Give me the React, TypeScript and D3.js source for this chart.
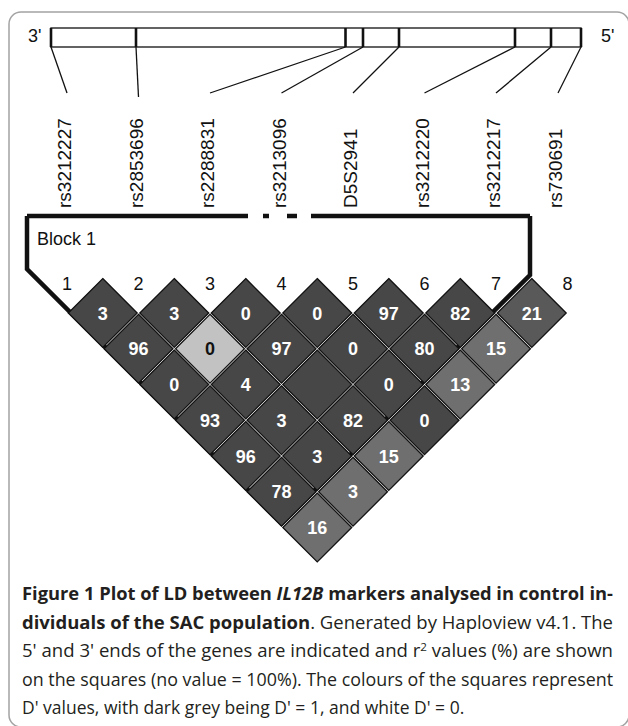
import React, { useEffect, useRef } from "react";
import { select, scaleLinear } from "d3";

// markers of IL12B, 3' -> 5'
const markerNames = ["rs3212227", "rs2853696", "rs2288831", "rs3213096", "D5S2941", "rs3212220", "rs3212217", "rs730691"];
const markerNumbers = [1, 2, 3, 4, 5, 6, 7, 8];
// relative position of each marker along the gene bar
const genePositions = [0, 85, 294.5, 312, 348, 464, 500, 530];

// r2 (%) per row of the LD plot (row d = pairs i, i+d); null = no value (100%)
const r2Rows = [
  [3, 3, 0, 0, 97, 82, 21],
  [96, 0, 97, 0, 80, 15],
  [0, 4, null, 0, 13],
  [93, 3, 82, 0],
  [96, 3, 15],
  [78, 3],
  [16],
];
// D' per square
const dPrimeRows = [
  [1, 1, 1, 1, 1, 1, 0.9],
  [1, 0.33, 1, 1, 1, 0.78],
  [1, 1, 1, 1, 0.78],
  [1, 1, 1, 1],
  [1, 1, 0.78],
  [1, 0.78],
  [0.78],
];
const blocks = [{ name: "Block 1", first: 1, last: 7 }];

const captionLines = [
  [["Figure 1 Plot of LD between ", "b"], ["IL12B", "bi"], [" markers analysed in control in-", "b"]],
  [["dividuals of the SAC population", "b"], [". Generated by Haploview v4.1. The", "r"]],
  [["5' and 3' ends of the genes are indicated and r", "r"], ["2", "sup"], [" values (%) are shown", "down"]],
  [["on the squares (no value = 100%). The colours of the squares represent", "r"]],
  [["D' values, with dark grey being D' = 1, and white D' = 0.", "r"]],
];

function LDPlot() {
  const svgRef = useRef(null);

  useEffect(() => {
    const svg = select(svgRef.current);
    svg.selectAll("*").remove();
    const font = "'Liberation Sans', Arial, sans-serif";

    // frame
    svg.append("rect")
      .attr("x", 9).attr("y", 12).attr("width", 620).attr("height", 715)
      .attr("rx", 12).attr("fill", "none").attr("stroke", "#a3a3a3").attr("stroke-width", 1.5);

    // gene bar
    const geneX = scaleLinear().domain([0, 530]).range([51, 581]);
    const barTop = 28, barBottom = 47;
    svg.append("rect")
      .attr("x", geneX(0)).attr("y", barTop)
      .attr("width", geneX(530) - geneX(0)).attr("height", barBottom - barTop)
      .attr("fill", "white").attr("stroke", "#222").attr("stroke-width", 1.4);
    svg.selectAll(".divider").data(genePositions).join("line")
      .attr("class", "divider")
      .attr("x1", d => geneX(d)).attr("x2", d => geneX(d))
      .attr("y1", barTop).attr("y2", barBottom)
      .attr("stroke", "#111").attr("stroke-width", 2.6);
    svg.append("text").attr("x", 28).attr("y", 42).text("3'")
      .attr("font-family", font).attr("font-size", 18).attr("fill", "#111");
    svg.append("text").attr("x", 601).attr("y", 42).text("5'")
      .attr("font-family", font).attr("font-size", 18).attr("fill", "#111");

    // LD triangle scales
    const markerX = scaleLinear().domain([1, 8]).range([67, 567.5]);
    const half = (markerX(2) - markerX(1)) / 2;
    const rowY = scaleLinear().domain([1, 7]).range([313, 313 + 6 * half]);
    const labelX = (i) => Math.min(markerX(i) - 3, geneX(530) - 26);

    // connectors + names
    svg.selectAll(".conn").data(genePositions).join("line")
      .attr("class", "conn")
      .attr("x1", d => geneX(d)).attr("y1", barBottom)
      .attr("x2", (d, k) => labelX(k + 1) + 3).attr("y2", (d, k) => (k === 1 ? 97 : 93))
      .attr("stroke", "#111").attr("stroke-width", 1.3);
    svg.selectAll(".name").data(markerNames).join("text")
      .attr("class", "name")
      .attr("transform", (d, k) => `translate(${labelX(k + 1) + 7},208) rotate(-90)`)
      .attr("font-family", font).attr("font-size", 19).attr("fill", "#111")
      .text(d => d);

    // block outline
    const off = 4;
    blocks.forEach(b => {
      const left = markerX(b.first) - 40;
      const right = markerX(b.last) + 34;
      const top = 216;
      const y1 = rowY(1) - off;
      const d = b.last - b.first;
      const xb = (markerX(b.first) + markerX(b.last)) / 2;
      const yb = y1 + d * half;
      const yL = y1 - (markerX(b.first) - left);
      const yR = y1 - (right - markerX(b.last));
      svg.append("path")
        .attr("d", `M${left},${top} L${left},${yL} L${xb},${yb} L${right},${yR} L${right},${top}`)
        .attr("fill", "none").attr("stroke", "#111").attr("stroke-width", 4.5)
        .attr("stroke-linejoin", "miter");
      svg.append("line")
        .attr("x1", left).attr("x2", right).attr("y1", top).attr("y2", top)
        .attr("stroke", "#111").attr("stroke-width", 4.5)
        .attr("stroke-dasharray", "221,15,6,18,10,14,221");
      svg.append("text").attr("x", left + 10).attr("y", 245).text(b.name)
        .attr("font-family", font).attr("font-size", 18).attr("fill", "#111");
    });

    // marker numbers
    svg.selectAll(".num").data(markerNumbers).join("text")
      .attr("class", "num")
      .attr("x", d => markerX(d)).attr("y", 290)
      .attr("text-anchor", "middle")
      .attr("font-family", font).attr("font-size", 18).attr("fill", "#111")
      .text(d => d);

    // squares
    const shade = scaleLinear().domain([0, 1]).range(["#ffffff", "#474747"]);
    const cells = [];
    r2Rows.forEach((row, r) => {
      row.forEach((v, k) => {
        const d = r + 1;
        const i = k + 1;
        cells.push({ i, j: i + d, d, r2: v, dp: dPrimeRows[r][k] });
      });
    });
    const inner = half - 1.3;
    const g = svg.append("g");
    const cell = g.selectAll(".cell").data(cells).join("g")
      .attr("class", "cell")
      .attr("transform", c => `translate(${(markerX(c.i) + markerX(c.j)) / 2},${rowY(c.d)})`);
    cell.append("path")
      .attr("d", `M0,${-inner} L${inner},0 L0,${inner} L${-inner},0 Z`)
      .attr("fill", c => shade(c.dp))
      .attr("stroke", "#111").attr("stroke-width", 1.3);
    cell.filter(c => c.r2 !== null).append("text")
      .attr("y", 6.5).attr("text-anchor", "middle")
      .attr("font-family", font).attr("font-size", 18).attr("font-weight", "bold")
      .attr("fill", c => (c.dp < 0.5 ? "#111" : "#fff"))
      .text(c => c.r2);

    // caption
    const capFont = "'Open Sans', 'Noto Sans', sans-serif";
    const capLeft = 22, capRight = 613;
    captionLines.forEach((parts, li) => {
      const t = svg.append("text")
        .attr("x", capLeft).attr("y", 600 + li * 28.5)
        .attr("font-family", capFont).attr("font-size", 17.5).attr("fill", "#231f20");
      if (li < captionLines.length - 1) {
        t.attr("textLength", capRight - capLeft).attr("lengthAdjust", "spacingAndGlyphs");
      }
      parts.forEach(([s, style]) => {
        const ts = t.append("tspan").text(s);
        if (style === "b" || style === "bi") ts.attr("font-weight", "bold");
        if (style === "bi") ts.attr("font-style", "italic");
        if (style === "sup") ts.attr("font-size", 11).attr("dy", -6);
        if (style === "down") ts.attr("dy", 6);
      });
    });
  }, []);

  return (
    <svg ref={svgRef} width={628} height={726} style={{ display: "block", position: "absolute", left: 0, top: 0 }} />
  );
}

export default function App() {
  return <LDPlot />;
}
